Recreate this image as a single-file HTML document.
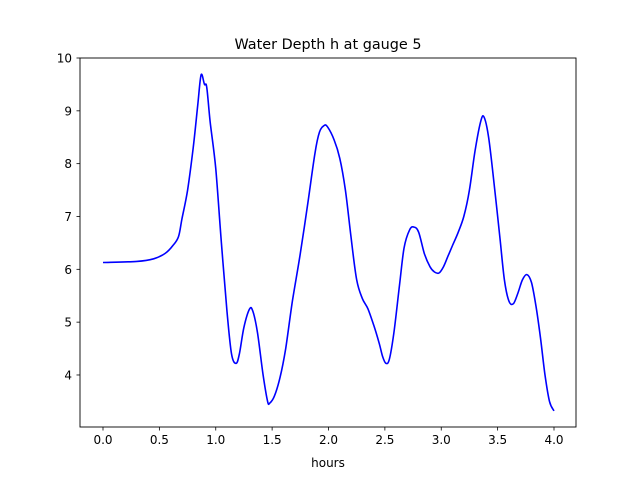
<!DOCTYPE html>
<html><head><meta charset="utf-8"><style>
body{margin:0;background:#fff;}
svg{display:block;font-family:"DejaVu Sans","Liberation Sans",sans-serif;}
</style></head><body>
<svg id="chart" width="640" height="480">
<rect width="640" height="480" fill="#fff"/>
<text x="328" y="49" font-size="14.4" text-anchor="middle">Water Depth h at gauge 5</text>
<g id="axes"></g>
<path id="line" fill="none" stroke="#0000ff" stroke-width="1.6" stroke-linejoin="round"/>
<rect x="80" y="58" width="496" height="369" fill="none" stroke="#000" stroke-width="0.9"/>
<text x="328" y="467" font-size="12" text-anchor="middle">hours</text>
</svg>
<script>
const times=[0,0.3,0.45,0.55,0.62,0.67,0.7,0.75,0.8,0.84,0.87,0.9,0.92,0.95,1.0,1.05,1.1,1.14,1.18,1.21,1.25,1.3,1.33,1.37,1.42,1.46,1.48,1.52,1.57,1.62,1.68,1.75,1.82,1.88,1.92,1.96,1.99,2.05,2.1,2.15,2.2,2.25,2.3,2.35,2.4,2.45,2.48,2.51,2.54,2.58,2.63,2.67,2.72,2.76,2.8,2.85,2.9,2.94,2.98,3.02,3.06,3.1,3.15,3.2,3.25,3.3,3.35,3.38,3.42,3.47,3.52,3.56,3.6,3.64,3.68,3.72,3.76,3.8,3.84,3.88,3.92,3.96,4.0];
const depths=[6.13,6.15,6.2,6.3,6.45,6.62,6.95,7.5,8.3,9.1,9.68,9.5,9.45,8.8,7.9,6.5,5.2,4.4,4.22,4.4,4.9,5.25,5.2,4.8,4.0,3.5,3.47,3.6,3.95,4.5,5.4,6.3,7.3,8.2,8.6,8.72,8.7,8.45,8.1,7.5,6.6,5.8,5.45,5.25,4.95,4.6,4.35,4.22,4.3,4.8,5.7,6.4,6.75,6.8,6.7,6.3,6.05,5.95,5.93,6.05,6.25,6.45,6.7,7.0,7.5,8.25,8.8,8.88,8.5,7.6,6.6,5.8,5.4,5.35,5.55,5.8,5.9,5.75,5.3,4.7,4.0,3.5,3.32];
const xTicks=[0,0.5,1,1.5,2,2.5,3,3.5,4];
const xTickLabels=["0.0","0.5","1.0","1.5","2.0","2.5","3.0","3.5","4.0"];
const yTicks=[4,5,6,7,8,9,10];
const yTickLabels=["4","5","6","7","8","9","10"];
const X=t=>103+t*112.75;
const Y=h=>58+(10-h)*52.83;
const NS="http://www.w3.org/2000/svg";
const ax=document.getElementById('axes');
function mk(tag,attrs){const e=document.createElementNS(NS,tag);for(const k in attrs)e.setAttribute(k,attrs[k]);ax.appendChild(e);return e;}
xTicks.forEach((t,i)=>{
  const l=mk('line',{x1:X(t),x2:X(t),y1:427,y2:430.5,stroke:'#000','stroke-width':0.8});
  
  
  const tx=mk('text',{x:X(t),y:444,'font-size':12,'text-anchor':'middle'});
  tx.textContent=xTickLabels[i];
  
  
});
yTicks.forEach((h,i)=>{
  const l=mk('line',{x1:76.5,x2:80,y1:Y(h),y2:Y(h),stroke:'#000','stroke-width':0.8});
  
  
  const tx=mk('text',{x:72,y:Y(h)+4.5,'font-size':12,'text-anchor':'end'});
  tx.textContent=yTickLabels[i];
  
  
});
const P=times.map((t,i)=>[X(t),Y(depths[i])]);
let d='M'+P[0][0].toFixed(1)+','+P[0][1].toFixed(1);
for(let i=0;i<P.length-1;i++){
  const p0=P[Math.max(i-1,0)],p1=P[i],p2=P[i+1],p3=P[Math.min(i+2,P.length-1)];
  const c1=[p1[0]+(p2[0]-p0[0])/6,p1[1]+(p2[1]-p0[1])/6];
  const c2=[p2[0]-(p3[0]-p1[0])/6,p2[1]-(p3[1]-p1[1])/6];
  d+=' C'+c1[0].toFixed(1)+','+c1[1].toFixed(1)+' '+c2[0].toFixed(1)+','+c2[1].toFixed(1)+' '+p2[0].toFixed(1)+','+p2[1].toFixed(1);
}
document.getElementById('line').setAttribute('d',d);
</script>
</body></html>
